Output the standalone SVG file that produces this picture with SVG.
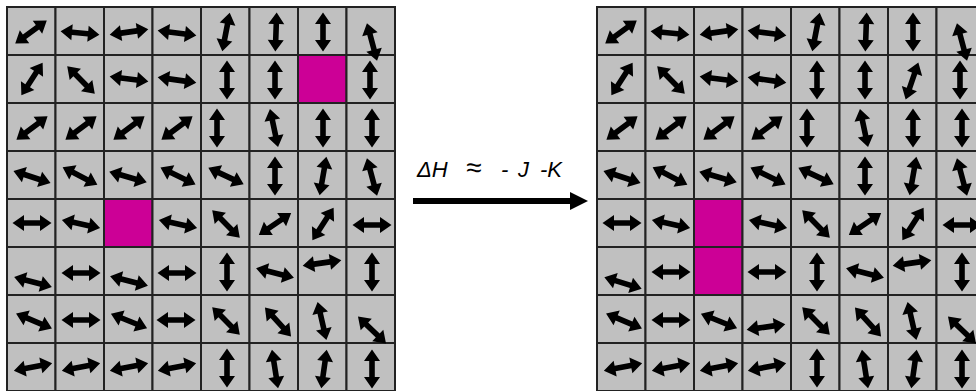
<svg xmlns="http://www.w3.org/2000/svg" xmlns:xlink="http://www.w3.org/1999/xlink" width="976" height="391" viewBox="0 0 976 391">
<style>
.c{fill:#c0c0c0;stroke:#222;stroke-width:2}
.m{fill:#cc0096;stroke:#222;stroke-width:2}
.lbl{font-family:"Liberation Sans",Arial,sans-serif;font-size:22px;font-style:italic;fill:#000}
</style>
<defs>
<path id="a" d="M-19.5,0 L-8,-8 L-8,-2.8 L8,-2.8 L8,-8 L19.5,0 L8,8 L8,2.8 L-8,2.8 L-8,8 Z" fill="#000"/>
</defs>
<rect width="976" height="391" fill="#fff"/>

<g id="grid-before">
<g id="L-r0">
<rect class="c" x="7" y="7" width="48.5" height="48"/><rect class="c" x="55.5" y="7" width="48.5" height="48"/><rect class="c" x="104" y="7" width="48.5" height="48"/><rect class="c" x="152.5" y="7" width="48.5" height="48"/><rect class="c" x="201" y="7" width="48.5" height="48"/><rect class="c" x="249.5" y="7" width="48.5" height="48"/><rect class="c" x="298" y="7" width="48.5" height="48"/><rect class="c" x="346.5" y="7" width="48.5" height="48"/>
</g>
<g id="L-r1">
<rect class="c" x="7" y="55" width="48.5" height="48"/><rect class="c" x="55.5" y="55" width="48.5" height="48"/><rect class="c" x="104" y="55" width="48.5" height="48"/><rect class="c" x="152.5" y="55" width="48.5" height="48"/><rect class="c" x="201" y="55" width="48.5" height="48"/><rect class="c" x="249.5" y="55" width="48.5" height="48"/><rect class="m" x="298" y="55" width="48.5" height="48"/><rect class="c" x="346.5" y="55" width="48.5" height="48"/>
</g>
<g id="L-r2">
<rect class="c" x="7" y="103" width="48.5" height="48"/><rect class="c" x="55.5" y="103" width="48.5" height="48"/><rect class="c" x="104" y="103" width="48.5" height="48"/><rect class="c" x="152.5" y="103" width="48.5" height="48"/><rect class="c" x="201" y="103" width="48.5" height="48"/><rect class="c" x="249.5" y="103" width="48.5" height="48"/><rect class="c" x="298" y="103" width="48.5" height="48"/><rect class="c" x="346.5" y="103" width="48.5" height="48"/>
</g>
<g id="L-r3">
<rect class="c" x="7" y="151" width="48.5" height="48"/><rect class="c" x="55.5" y="151" width="48.5" height="48"/><rect class="c" x="104" y="151" width="48.5" height="48"/><rect class="c" x="152.5" y="151" width="48.5" height="48"/><rect class="c" x="201" y="151" width="48.5" height="48"/><rect class="c" x="249.5" y="151" width="48.5" height="48"/><rect class="c" x="298" y="151" width="48.5" height="48"/><rect class="c" x="346.5" y="151" width="48.5" height="48"/>
</g>
<g id="L-r4">
<rect class="c" x="7" y="199" width="48.5" height="48"/><rect class="c" x="55.5" y="199" width="48.5" height="48"/><rect class="m" x="104" y="199" width="48.5" height="48"/><rect class="c" x="152.5" y="199" width="48.5" height="48"/><rect class="c" x="201" y="199" width="48.5" height="48"/><rect class="c" x="249.5" y="199" width="48.5" height="48"/><rect class="c" x="298" y="199" width="48.5" height="48"/><rect class="c" x="346.5" y="199" width="48.5" height="48"/>
</g>
<g id="L-r5">
<rect class="c" x="7" y="247" width="48.5" height="48"/><rect class="c" x="55.5" y="247" width="48.5" height="48"/><rect class="c" x="104" y="247" width="48.5" height="48"/><rect class="c" x="152.5" y="247" width="48.5" height="48"/><rect class="c" x="201" y="247" width="48.5" height="48"/><rect class="c" x="249.5" y="247" width="48.5" height="48"/><rect class="c" x="298" y="247" width="48.5" height="48"/><rect class="c" x="346.5" y="247" width="48.5" height="48"/>
</g>
<g id="L-r6">
<rect class="c" x="7" y="295" width="48.5" height="48"/><rect class="c" x="55.5" y="295" width="48.5" height="48"/><rect class="c" x="104" y="295" width="48.5" height="48"/><rect class="c" x="152.5" y="295" width="48.5" height="48"/><rect class="c" x="201" y="295" width="48.5" height="48"/><rect class="c" x="249.5" y="295" width="48.5" height="48"/><rect class="c" x="298" y="295" width="48.5" height="48"/><rect class="c" x="346.5" y="295" width="48.5" height="48"/>
</g>
<g id="L-r7">
<rect class="c" x="7" y="343" width="48.5" height="48"/><rect class="c" x="55.5" y="343" width="48.5" height="48"/><rect class="c" x="104" y="343" width="48.5" height="48"/><rect class="c" x="152.5" y="343" width="48.5" height="48"/><rect class="c" x="201" y="343" width="48.5" height="48"/><rect class="c" x="249.5" y="343" width="48.5" height="48"/><rect class="c" x="298" y="343" width="48.5" height="48"/><rect class="c" x="346.5" y="343" width="48.5" height="48"/>
</g>
<g id="L-spins">
<use href="#a" transform="translate(31,32) rotate(-36)"/><use href="#a" transform="translate(80,33) rotate(5)"/><use href="#a" transform="translate(129,32) rotate(-8)"/><use href="#a" transform="translate(177,33) rotate(7)"/><use href="#a" transform="translate(226,32) rotate(-79)"/><use href="#a" transform="translate(276,32) rotate(-88)"/><use href="#a" transform="translate(323,32) rotate(90)"/><use href="#a" transform="translate(372,42) rotate(75)"/>
<use href="#a" transform="translate(32,79) rotate(-57)"/><use href="#a" transform="translate(81,80) rotate(45)"/><use href="#a" transform="translate(129,79) rotate(7)"/><use href="#a" transform="translate(177,80) rotate(8)"/><use href="#a" transform="translate(227,80) rotate(90)"/><use href="#a" transform="translate(275,80) rotate(90)"/><use href="#a" transform="translate(370,80) rotate(90)"/>
<use href="#a" transform="translate(32,128) rotate(-37)"/><use href="#a" transform="translate(81,128) rotate(-37)"/><use href="#a" transform="translate(129,128) rotate(-37)"/><use href="#a" transform="translate(177,128) rotate(-37)"/><use href="#a" transform="translate(217,128) rotate(90)"/><use href="#a" transform="translate(274,128) rotate(78)"/><use href="#a" transform="translate(323,128) rotate(90)"/><use href="#a" transform="translate(372,128) rotate(90)"/>
<use href="#a" transform="translate(32,177) rotate(18)"/><use href="#a" transform="translate(80,176) rotate(27)"/><use href="#a" transform="translate(128,177) rotate(16)"/><use href="#a" transform="translate(178,176) rotate(26)"/><use href="#a" transform="translate(226,176) rotate(25)"/><use href="#a" transform="translate(275,176) rotate(90)"/><use href="#a" transform="translate(323,176) rotate(-80)"/><use href="#a" transform="translate(372,177) rotate(75)"/>
<use href="#a" transform="translate(32,223) rotate(0)"/><use href="#a" transform="translate(81,224) rotate(12)"/><use href="#a" transform="translate(178,224) rotate(12)"/><use href="#a" transform="translate(226,224) rotate(45)"/><use href="#a" transform="translate(275,224) rotate(-34)"/><use href="#a" transform="translate(323,224) rotate(-57)"/><use href="#a" transform="translate(372,225) rotate(0)"/>
<use href="#a" transform="translate(33,282) rotate(15)"/><use href="#a" transform="translate(81,273) rotate(0)"/><use href="#a" transform="translate(129,281) rotate(14)"/><use href="#a" transform="translate(177,273) rotate(0)"/><use href="#a" transform="translate(227,272) rotate(90)"/><use href="#a" transform="translate(275,273) rotate(14)"/><use href="#a" transform="translate(322,263) rotate(-8)"/><use href="#a" transform="translate(372,272) rotate(90)"/>
<use href="#a" transform="translate(34,321) rotate(23)"/><use href="#a" transform="translate(81,320) rotate(0)"/><use href="#a" transform="translate(129,321) rotate(22)"/><use href="#a" transform="translate(176,320) rotate(0)"/><use href="#a" transform="translate(226,321) rotate(45)"/><use href="#a" transform="translate(278,322) rotate(48)"/><use href="#a" transform="translate(322,321) rotate(77)"/><use href="#a" transform="translate(372,330) rotate(44)"/>
<use href="#a" transform="translate(33,367) rotate(-11)"/><use href="#a" transform="translate(81,367) rotate(-11)"/><use href="#a" transform="translate(129,367) rotate(-11)"/><use href="#a" transform="translate(177,367) rotate(-11)"/><use href="#a" transform="translate(227,368) rotate(90)"/><use href="#a" transform="translate(275,369) rotate(81)"/><use href="#a" transform="translate(324,369) rotate(-82)"/><use href="#a" transform="translate(372,369) rotate(90)"/>
</g>
</g>

<g id="grid-after" transform="translate(590,0)">
<g id="R-r0">
<rect class="c" x="7" y="7" width="48.5" height="48"/><rect class="c" x="55.5" y="7" width="48.5" height="48"/><rect class="c" x="104" y="7" width="48.5" height="48"/><rect class="c" x="152.5" y="7" width="48.5" height="48"/><rect class="c" x="201" y="7" width="48.5" height="48"/><rect class="c" x="249.5" y="7" width="48.5" height="48"/><rect class="c" x="298" y="7" width="48.5" height="48"/><rect class="c" x="346.5" y="7" width="48.5" height="48"/>
</g>
<g id="R-r1">
<rect class="c" x="7" y="55" width="48.5" height="48"/><rect class="c" x="55.5" y="55" width="48.5" height="48"/><rect class="c" x="104" y="55" width="48.5" height="48"/><rect class="c" x="152.5" y="55" width="48.5" height="48"/><rect class="c" x="201" y="55" width="48.5" height="48"/><rect class="c" x="249.5" y="55" width="48.5" height="48"/><rect class="c" x="298" y="55" width="48.5" height="48"/><rect class="c" x="346.5" y="55" width="48.5" height="48"/>
</g>
<g id="R-r2">
<rect class="c" x="7" y="103" width="48.5" height="48"/><rect class="c" x="55.5" y="103" width="48.5" height="48"/><rect class="c" x="104" y="103" width="48.5" height="48"/><rect class="c" x="152.5" y="103" width="48.5" height="48"/><rect class="c" x="201" y="103" width="48.5" height="48"/><rect class="c" x="249.5" y="103" width="48.5" height="48"/><rect class="c" x="298" y="103" width="48.5" height="48"/><rect class="c" x="346.5" y="103" width="48.5" height="48"/>
</g>
<g id="R-r3">
<rect class="c" x="7" y="151" width="48.5" height="48"/><rect class="c" x="55.5" y="151" width="48.5" height="48"/><rect class="c" x="104" y="151" width="48.5" height="48"/><rect class="c" x="152.5" y="151" width="48.5" height="48"/><rect class="c" x="201" y="151" width="48.5" height="48"/><rect class="c" x="249.5" y="151" width="48.5" height="48"/><rect class="c" x="298" y="151" width="48.5" height="48"/><rect class="c" x="346.5" y="151" width="48.5" height="48"/>
</g>
<g id="R-r4">
<rect class="c" x="7" y="199" width="48.5" height="48"/><rect class="c" x="55.5" y="199" width="48.5" height="48"/><rect class="m" x="104" y="199" width="48.5" height="48"/><rect class="c" x="152.5" y="199" width="48.5" height="48"/><rect class="c" x="201" y="199" width="48.5" height="48"/><rect class="c" x="249.5" y="199" width="48.5" height="48"/><rect class="c" x="298" y="199" width="48.5" height="48"/><rect class="c" x="346.5" y="199" width="48.5" height="48"/>
</g>
<g id="R-r5">
<rect class="c" x="7" y="247" width="48.5" height="48"/><rect class="c" x="55.5" y="247" width="48.5" height="48"/><rect class="m" x="104" y="247" width="48.5" height="48"/><rect class="c" x="152.5" y="247" width="48.5" height="48"/><rect class="c" x="201" y="247" width="48.5" height="48"/><rect class="c" x="249.5" y="247" width="48.5" height="48"/><rect class="c" x="298" y="247" width="48.5" height="48"/><rect class="c" x="346.5" y="247" width="48.5" height="48"/>
</g>
<g id="R-r6">
<rect class="c" x="7" y="295" width="48.5" height="48"/><rect class="c" x="55.5" y="295" width="48.5" height="48"/><rect class="c" x="104" y="295" width="48.5" height="48"/><rect class="c" x="152.5" y="295" width="48.5" height="48"/><rect class="c" x="201" y="295" width="48.5" height="48"/><rect class="c" x="249.5" y="295" width="48.5" height="48"/><rect class="c" x="298" y="295" width="48.5" height="48"/><rect class="c" x="346.5" y="295" width="48.5" height="48"/>
</g>
<g id="R-r7">
<rect class="c" x="7" y="343" width="48.5" height="48"/><rect class="c" x="55.5" y="343" width="48.5" height="48"/><rect class="c" x="104" y="343" width="48.5" height="48"/><rect class="c" x="152.5" y="343" width="48.5" height="48"/><rect class="c" x="201" y="343" width="48.5" height="48"/><rect class="c" x="249.5" y="343" width="48.5" height="48"/><rect class="c" x="298" y="343" width="48.5" height="48"/><rect class="c" x="346.5" y="343" width="48.5" height="48"/>
</g>
<g id="R-spins">
<use href="#a" transform="translate(31,32) rotate(-36)"/><use href="#a" transform="translate(80,33) rotate(5)"/><use href="#a" transform="translate(129,32) rotate(-8)"/><use href="#a" transform="translate(177,33) rotate(7)"/><use href="#a" transform="translate(226,32) rotate(-79)"/><use href="#a" transform="translate(276,32) rotate(-88)"/><use href="#a" transform="translate(323,32) rotate(90)"/><use href="#a" transform="translate(372,42) rotate(75)"/>
<use href="#a" transform="translate(32,79) rotate(-57)"/><use href="#a" transform="translate(81,80) rotate(45)"/><use href="#a" transform="translate(129,79) rotate(7)"/><use href="#a" transform="translate(177,80) rotate(8)"/><use href="#a" transform="translate(227,80) rotate(90)"/><use href="#a" transform="translate(275,80) rotate(90)"/><use href="#a" transform="translate(322,81) rotate(-71)"/><use href="#a" transform="translate(370,80) rotate(90)"/>
<use href="#a" transform="translate(32,128) rotate(-37)"/><use href="#a" transform="translate(81,128) rotate(-37)"/><use href="#a" transform="translate(129,128) rotate(-37)"/><use href="#a" transform="translate(177,128) rotate(-37)"/><use href="#a" transform="translate(217,128) rotate(90)"/><use href="#a" transform="translate(274,128) rotate(78)"/><use href="#a" transform="translate(323,128) rotate(90)"/><use href="#a" transform="translate(372,128) rotate(90)"/>
<use href="#a" transform="translate(32,177) rotate(18)"/><use href="#a" transform="translate(80,176) rotate(27)"/><use href="#a" transform="translate(128,177) rotate(16)"/><use href="#a" transform="translate(178,176) rotate(26)"/><use href="#a" transform="translate(226,176) rotate(25)"/><use href="#a" transform="translate(275,176) rotate(90)"/><use href="#a" transform="translate(323,176) rotate(-80)"/><use href="#a" transform="translate(372,177) rotate(75)"/>
<use href="#a" transform="translate(32,223) rotate(0)"/><use href="#a" transform="translate(81,224) rotate(12)"/><use href="#a" transform="translate(178,224) rotate(12)"/><use href="#a" transform="translate(226,224) rotate(45)"/><use href="#a" transform="translate(275,224) rotate(-34)"/><use href="#a" transform="translate(323,224) rotate(-57)"/><use href="#a" transform="translate(372,225) rotate(0)"/>
<use href="#a" transform="translate(33,283) rotate(17)"/><use href="#a" transform="translate(81,272) rotate(0)"/><use href="#a" transform="translate(177,272) rotate(0)"/><use href="#a" transform="translate(227,272) rotate(90)"/><use href="#a" transform="translate(275,273) rotate(14)"/><use href="#a" transform="translate(322,263) rotate(-8)"/><use href="#a" transform="translate(372,272) rotate(90)"/>
<use href="#a" transform="translate(34,321) rotate(23)"/><use href="#a" transform="translate(81,320) rotate(0)"/><use href="#a" transform="translate(129,321) rotate(22)"/><use href="#a" transform="translate(176,327) rotate(-8)"/><use href="#a" transform="translate(226,321) rotate(45)"/><use href="#a" transform="translate(278,322) rotate(48)"/><use href="#a" transform="translate(322,321) rotate(77)"/><use href="#a" transform="translate(372,330) rotate(44)"/>
<use href="#a" transform="translate(33,367) rotate(-11)"/><use href="#a" transform="translate(81,367) rotate(-11)"/><use href="#a" transform="translate(129,367) rotate(-11)"/><use href="#a" transform="translate(177,367) rotate(-11)"/><use href="#a" transform="translate(227,368) rotate(90)"/><use href="#a" transform="translate(275,369) rotate(81)"/><use href="#a" transform="translate(324,369) rotate(-82)"/><use href="#a" transform="translate(372,369) rotate(90)"/>
</g>
</g>

<g id="connectors">
<line x1="413" y1="201" x2="572" y2="201" stroke="#000" stroke-width="6"/>
<polygon points="570,192 588,201 570,210" fill="#000"/>
</g>
<g id="label">
<text class="lbl" y="177"><tspan x="417">ΔH</tspan><tspan x="466" font-size="28">≈</tspan><tspan x="501">-</tspan><tspan x="518">J</tspan><tspan x="540">-K</tspan></text>
</g>
</svg>
